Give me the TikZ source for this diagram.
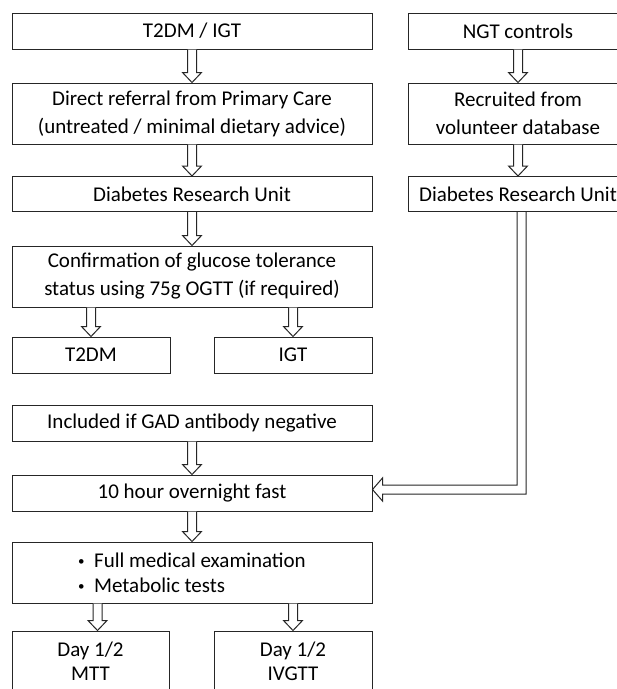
\documentclass[tikz,border=0pt]{standalone}
\usepackage{fontspec}
\setmainfont{Carlito}
\usetikzlibrary{calc}
\tikzset{
  box/.style={draw=black!85, line width=1pt, fill=white, inner sep=0pt, align=center,
    font=\fontsize{21}{28}\selectfont},
  blk/.style={draw=black!85, line width=1pt, fill=white, line join=miter},
}
\newcommand{\vblk}[2]{\draw[blk] let \p1=(#1), \p2=(#2) in
  (\x1-4.5pt,\y1) -- (\x1-4.5pt,\y2+10pt) -- (\x1-9.5pt,\y2+10pt) -- (\x1,\y2)
  -- (\x1+9.5pt,\y2+10pt) -- (\x1+4.5pt,\y2+10pt) -- (\x1+4.5pt,\y1);}
\newcommand{\bul}{\makebox[16pt][l]{\raisebox{1.5pt}{\fontsize{13}{13}\selectfont\textbullet}}}
\begin{document}
\begin{tikzpicture}[x=1pt,y=-1pt]
\useasboundingbox (0,0) rectangle (617,689);
\fill[white] (0,0) rectangle (617,689);
\clip (0,0) rectangle (617,689);
% left column
\node[box, minimum width=360, minimum height=36] (b1) at (192,31) {T2DM / IGT};
\node[box, minimum width=360, minimum height=61] (b2) at (192,113.5) {Direct referral from Primary Care\\(untreated / minimal dietary advice)};
\node[box, minimum width=360, minimum height=35] (b3) at (192,194) {Diabetes Research Unit};
\node[box, minimum width=360, minimum height=61] (b4) at (192,276.5) {Confirmation of glucose tolerance\\status using 75g OGTT (if required)};
\node[box, minimum width=158, minimum height=36] (t2dm) at (91,355) {T2DM};
\node[box, minimum width=158, minimum height=36] (igt) at (293,355) {IGT};
\node[box, minimum width=360, minimum height=36] (gad) at (192,423) {Included if GAD antibody negative};
\node[box, minimum width=360, minimum height=36] (fast) at (192,493) {10 hour overnight fast};
\node[box, minimum width=360, minimum height=61, align=left, font=\fontsize{21}{25}\selectfont] (med) at (192,572.5)
  {\bul Full medical examination\\\bul Metabolic tests};
\node[box, minimum width=157, minimum height=60, font=\fontsize{21}{24}\selectfont] (mtt) at (90.5,661) {Day 1/2\\MTT};
\node[box, minimum width=158, minimum height=60, font=\fontsize{21}{24}\selectfont] (ivgtt) at (293,661) {Day 1/2\\IVGTT};
% right column
\node[box, minimum width=220, minimum height=36] (n1) at (518,31) {NGT controls};
\node[box, minimum width=220, minimum height=61] (n2) at (518,113.5) {Recruited from\\volunteer database};
\node[box, minimum width=220, minimum height=35] (n3) at (518,194) {Diabetes Research Unit};
% block arrows
\vblk{b1.south}{b2.north}
\vblk{b2.south}{b3.north}
\vblk{b3.south}{b4.north}
\vblk{b4.south -| t2dm.north}{t2dm.north}
\vblk{b4.south -| igt.north}{igt.north}
\vblk{gad.south}{fast.north}
\vblk{fast.south}{med.north}
\vblk{$(med.south -| mtt.north)+(7,0)$}{mtt.north}
\vblk{med.south -| ivgtt.north}{ivgtt.north}
\vblk{n1.south}{n2.north}
\vblk{n2.south}{n3.north}
% double-line connector from NGT unit to fast
\draw[blk] let \p1=(n3.south), \p2=(fast.east) in
  (\x1-1pt,\y1) -- (\x1-1pt,\y2+8pt) -- (\x2+10pt,\y2+8pt) -- (\x2+10pt,\y2+15pt)
  -- (\x2,\y2+3.5pt) -- (\x2+10pt,\y2-8pt) -- (\x2+10pt,\y2-1pt) -- (\x1+8pt,\y2-1pt) -- (\x1+8pt,\y1);
\end{tikzpicture}
\end{document}
